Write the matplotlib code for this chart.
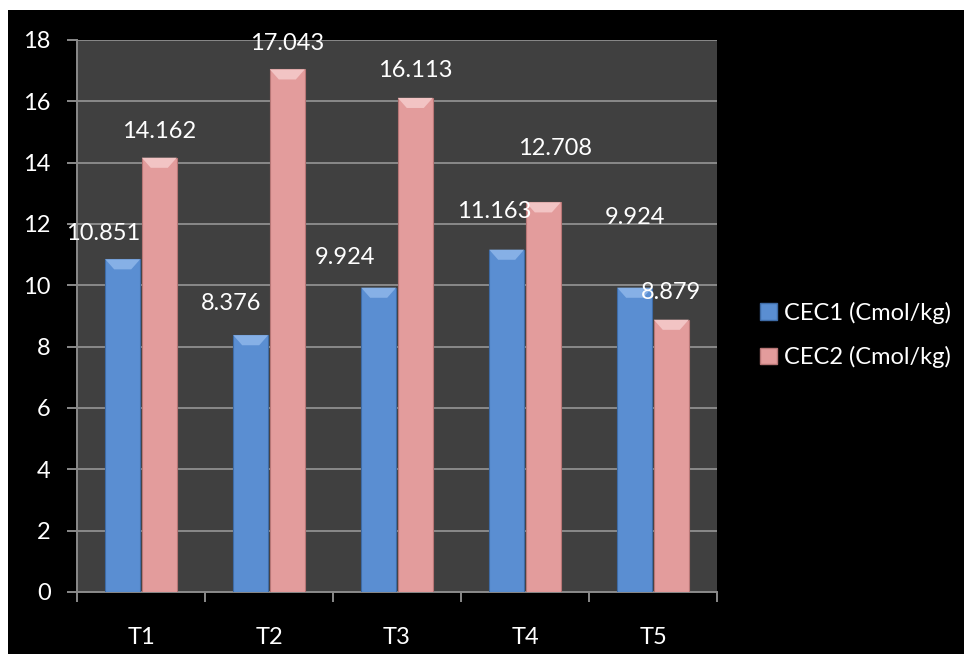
import numpy as np
import matplotlib.pyplot as plt
from matplotlib.patches import Rectangle, Polygon, Patch

# soil CEC per treatment
treatments = ['T1', 'T2', 'T3', 'T4', 'T5']
cec1 = [10.851, 8.376, 9.924, 11.163, 9.924]
cec2 = [14.162, 17.043, 16.113, 12.708, 8.879]
series_names = ['CEC1 (Cmol/kg)', 'CEC2 (Cmol/kg)']
yticks = [0, 2, 4, 6, 8, 10, 12, 14, 16, 18]

blue = '#5A8ED2'
pink = '#E39C9C'
blue_top = '#86B0E6'
pink_top = '#F2C4C4'

plt.rcParams['font.family'] = ['Lato', 'DejaVu Sans']

fig = plt.figure(figsize=(9.64, 6.54), dpi=100, facecolor='white')
# black chart frame behind everything
fig.patches.append(Rectangle((8 / 964, 0), 956 / 964, 644 / 654, transform=fig.transFigure,
                             facecolor='black', edgecolor='none', zorder=-10))

ax = fig.add_axes([77 / 964, 62 / 654, 640 / 964, 552 / 654])
ax.set_zorder(1)
ax.set_facecolor('#404040')

x = np.arange(len(treatments))
w = 0.273
off = 0.143


def bevel(ax, xs, vals, color):
    # lighter chamfer on the top of each bar
    for xc, v in zip(xs, vals):
        h = 0.33
        poly = Polygon([(xc - w / 2, v), (xc + w / 2, v), (xc + w / 2 - 0.07, v - h),
                        (xc - w / 2 + 0.07, v - h)], closed=True,
                       facecolor=color, edgecolor='none', zorder=4)
        ax.add_patch(poly)


ax.bar(x - off, cec1, w, color=blue, edgecolor='#3E6BA6', linewidth=0.8, zorder=3)
ax.bar(x + off, cec2, w, color=pink, edgecolor='#B77676', linewidth=0.8, zorder=3)
bevel(ax, x - off, cec1, blue_top)
bevel(ax, x + off, cec2, pink_top)

# value labels, nudged apart where they would collide
off1 = [(-20, 26), (-20, 32), (-34, 30), (-12, 38), (0, 70)]
off2 = [(0, 26), (0, 26), (0, 27), (12, 54), (0, 27)]
for xs, vals, offs in [(x - off, cec1, off1), (x + off, cec2, off2)]:
    for xc, v, (dx, dy) in zip(xs, vals, offs):
        ax.annotate('%.3f' % v, (xc, v), xytext=(dx, dy), textcoords='offset pixels',
                    ha='center', va='center', color='white', fontsize=17, zorder=5)

ax.set_xlim(-0.5, len(treatments) - 0.5)
ax.set_ylim(0, 18)
ax.set_yticks(yticks)
ax.grid(axis='y', color='#8a8a8a', linewidth=1.4, zorder=1)
ax.set_axisbelow(True)

ax.set_xticks(x)
ax.set_xticklabels(treatments)
ax.set_xticks(np.arange(len(treatments) + 1) - 0.5, minor=True)
ax.tick_params(axis='x', which='major', length=0, pad=25, labelsize=17, labelcolor='white')
ax.tick_params(axis='x', which='minor', length=7, width=1.4, color='#8a8a8a', direction='out')
ax.tick_params(axis='y', length=7, width=1.4, color='#8a8a8a', pad=12, labelsize=17,
               labelcolor='white')

for side in ['top', 'right']:
    ax.spines[side].set_visible(False)
for side in ['left', 'bottom']:
    ax.spines[side].set_color('#8a8a8a')
    ax.spines[side].set_linewidth(1.4)

handles = [Patch(facecolor=blue, edgecolor='#3E6BA6'), Patch(facecolor=pink, edgecolor='#B77676')]
fig.legend(handles, series_names, loc='center left', bbox_to_anchor=(739 / 964, 1 - 335 / 654),
           frameon=False, fontsize=17, labelcolor='white', handlelength=0.7, handleheight=0.7,
           handletextpad=0.3, labelspacing=0.95)

fig.savefig('out.png', dpi=100, facecolor='white')
